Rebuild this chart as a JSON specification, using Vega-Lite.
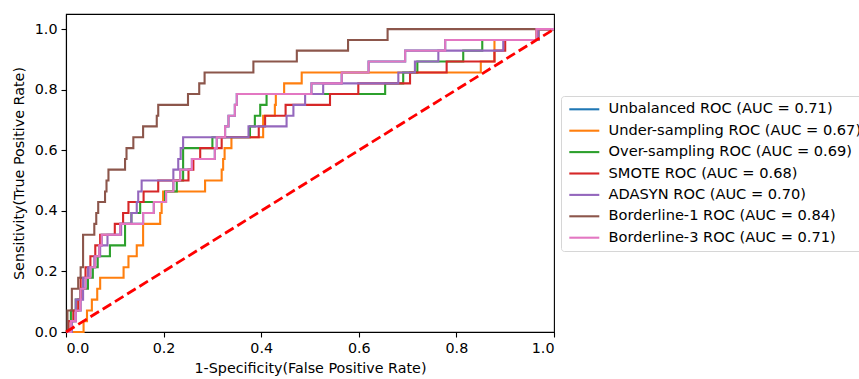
{
  "$schema": "https://vega.github.io/schema/vega-lite/v6.json",
  "width": 488,
  "height": 318,
  "autosize": {"type": "none"},
  "padding": {"left": 66, "top": 14, "right": 305, "bottom": 47},
  "background": "white",
  "config": {
    "font": "DejaVu Sans",
    "view": {"stroke": "#000", "strokeWidth": 1.1},
    "axis": {
      "domainColor": "#000", "domainWidth": 1.1, "tickColor": "#000", "tickWidth": 1.1, "tickSize": 5,
      "labelFont": "DejaVu Sans", "labelFontSize": 14.3, "labelColor": "#000", "labelPadding": 4,
      "titleFont": "DejaVu Sans", "titleFontSize": 14.3, "titleFontWeight": "normal", "titleColor": "#000", "grid": false
    }
  },
  "datasets": {
    "unbalanced": [{"x":0,"y":0},{"x":0.01,"y":0.036},{"x":0.02,"y":0.071},{"x":0.03,"y":0.143},{"x":0.04,"y":0.179},{"x":0.05,"y":0.214},{"x":0.06,"y":0.25},{"x":0.068,"y":0.286},{"x":0.073,"y":0.321},{"x":0.111,"y":0.357},{"x":0.158,"y":0.393},{"x":0.18,"y":0.429},{"x":0.205,"y":0.464},{"x":0.22,"y":0.5},{"x":0.234,"y":0.536},{"x":0.258,"y":0.571},{"x":0.305,"y":0.607},{"x":0.309,"y":0.643},{"x":0.326,"y":0.679},{"x":0.333,"y":0.714},{"x":0.346,"y":0.75},{"x":0.35,"y":0.786},{"x":0.503,"y":0.821},{"x":0.565,"y":0.857},{"x":0.62,"y":0.893},{"x":0.695,"y":0.929},{"x":0.777,"y":0.964},{"x":0.964,"y":1},{"x":1,"y":1}],
    "under": [{"x":0,"y":0},{"x":0.036,"y":0.036},{"x":0.043,"y":0.071},{"x":0.053,"y":0.107},{"x":0.064,"y":0.143},{"x":0.07,"y":0.179},{"x":0.118,"y":0.214},{"x":0.128,"y":0.25},{"x":0.145,"y":0.286},{"x":0.158,"y":0.357},{"x":0.193,"y":0.393},{"x":0.196,"y":0.429},{"x":0.199,"y":0.464},{"x":0.285,"y":0.5},{"x":0.319,"y":0.536},{"x":0.322,"y":0.571},{"x":0.325,"y":0.607},{"x":0.339,"y":0.643},{"x":0.404,"y":0.714},{"x":0.428,"y":0.75},{"x":0.43,"y":0.786},{"x":0.447,"y":0.821},{"x":0.483,"y":0.857},{"x":0.85,"y":0.893},{"x":0.878,"y":0.964},{"x":0.964,"y":1},{"x":1,"y":1}],
    "over": [{"x":0,"y":0},{"x":0.01,"y":0.071},{"x":0.02,"y":0.107},{"x":0.03,"y":0.143},{"x":0.045,"y":0.179},{"x":0.055,"y":0.214},{"x":0.065,"y":0.25},{"x":0.09,"y":0.286},{"x":0.121,"y":0.357},{"x":0.134,"y":0.393},{"x":0.152,"y":0.429},{"x":0.203,"y":0.464},{"x":0.227,"y":0.5},{"x":0.24,"y":0.607},{"x":0.3,"y":0.643},{"x":0.377,"y":0.679},{"x":0.387,"y":0.714},{"x":0.398,"y":0.75},{"x":0.411,"y":0.786},{"x":0.654,"y":0.821},{"x":0.691,"y":0.857},{"x":0.72,"y":0.893},{"x":0.814,"y":0.929},{"x":0.853,"y":0.964},{"x":0.968,"y":1},{"x":1,"y":1}],
    "smote": [{"x":0,"y":0},{"x":0.005,"y":0.036},{"x":0.015,"y":0.071},{"x":0.025,"y":0.107},{"x":0.03,"y":0.179},{"x":0.04,"y":0.214},{"x":0.05,"y":0.25},{"x":0.06,"y":0.286},{"x":0.07,"y":0.321},{"x":0.1,"y":0.357},{"x":0.117,"y":0.393},{"x":0.128,"y":0.429},{"x":0.159,"y":0.464},{"x":0.189,"y":0.5},{"x":0.251,"y":0.536},{"x":0.261,"y":0.571},{"x":0.275,"y":0.607},{"x":0.319,"y":0.643},{"x":0.395,"y":0.679},{"x":0.408,"y":0.714},{"x":0.45,"y":0.75},{"x":0.541,"y":0.786},{"x":0.599,"y":0.821},{"x":0.705,"y":0.857},{"x":0.78,"y":0.893},{"x":0.878,"y":0.929},{"x":0.9,"y":0.964},{"x":0.968,"y":1},{"x":1,"y":1}],
    "adasyn": [{"x":0,"y":0},{"x":0.012,"y":0.036},{"x":0.02,"y":0.107},{"x":0.035,"y":0.179},{"x":0.045,"y":0.214},{"x":0.058,"y":0.25},{"x":0.07,"y":0.286},{"x":0.085,"y":0.321},{"x":0.113,"y":0.357},{"x":0.134,"y":0.393},{"x":0.145,"y":0.429},{"x":0.148,"y":0.464},{"x":0.155,"y":0.5},{"x":0.22,"y":0.536},{"x":0.23,"y":0.571},{"x":0.235,"y":0.607},{"x":0.24,"y":0.643},{"x":0.374,"y":0.679},{"x":0.452,"y":0.714},{"x":0.466,"y":0.75},{"x":0.49,"y":0.786},{"x":0.527,"y":0.821},{"x":0.681,"y":0.857},{"x":0.715,"y":0.893},{"x":0.763,"y":0.929},{"x":0.896,"y":0.964},{"x":0.968,"y":1},{"x":1,"y":1}],
    "border1": [{"x":0,"y":0},{"x":0.003,"y":0.071},{"x":0.012,"y":0.143},{"x":0.025,"y":0.179},{"x":0.03,"y":0.214},{"x":0.035,"y":0.321},{"x":0.058,"y":0.357},{"x":0.062,"y":0.393},{"x":0.066,"y":0.429},{"x":0.08,"y":0.464},{"x":0.083,"y":0.5},{"x":0.087,"y":0.536},{"x":0.121,"y":0.571},{"x":0.124,"y":0.607},{"x":0.138,"y":0.643},{"x":0.158,"y":0.679},{"x":0.186,"y":0.714},{"x":0.189,"y":0.75},{"x":0.25,"y":0.786},{"x":0.273,"y":0.821},{"x":0.284,"y":0.857},{"x":0.384,"y":0.893},{"x":0.473,"y":0.929},{"x":0.578,"y":0.964},{"x":0.659,"y":1},{"x":1,"y":1}],
    "border3": [{"x":0,"y":0},{"x":0.01,"y":0.036},{"x":0.02,"y":0.071},{"x":0.03,"y":0.143},{"x":0.04,"y":0.179},{"x":0.05,"y":0.214},{"x":0.06,"y":0.25},{"x":0.068,"y":0.286},{"x":0.073,"y":0.321},{"x":0.111,"y":0.357},{"x":0.158,"y":0.393},{"x":0.18,"y":0.429},{"x":0.205,"y":0.464},{"x":0.22,"y":0.5},{"x":0.234,"y":0.536},{"x":0.258,"y":0.571},{"x":0.305,"y":0.607},{"x":0.309,"y":0.643},{"x":0.326,"y":0.679},{"x":0.333,"y":0.714},{"x":0.346,"y":0.75},{"x":0.35,"y":0.786},{"x":0.503,"y":0.821},{"x":0.565,"y":0.857},{"x":0.62,"y":0.893},{"x":0.695,"y":0.929},{"x":0.777,"y":0.964},{"x":0.964,"y":1},{"x":1,"y":1}],
    "diag": [{"x":0,"y":0},{"x":1,"y":1}]
  },
  "layer": [
    {
      "data": {"name": "unbalanced"},
      "mark": {"type": "line", "interpolate": "step-after", "strokeWidth": 2.1},
      "encoding": {
        "x": {"field": "x", "type": "quantitative", "scale": {"domain": [0, 1], "nice": false, "zero": false},
              "axis": {"values": [0, 0.2, 0.4, 0.6, 0.8, 1.0], "format": ".1f", "title": "1-Specificity(False Positive Rate)", "titlePadding": 6}},
        "y": {"field": "y", "type": "quantitative", "scale": {"domain": [0, 1.05], "nice": false},
              "axis": {"values": [0, 0.2, 0.4, 0.6, 0.8, 1.0], "format": ".1f", "title": "Sensitivity(True Positive Rate)", "titlePadding": 8}},
        "color": {"datum": "Unbalanced ROC (AUC = 0.71)", "type": "nominal",
          "scale": {
            "domain": ["Unbalanced ROC (AUC = 0.71)", "Under-sampling ROC (AUC = 0.67)", "Over-sampling ROC (AUC = 0.69)", "SMOTE ROC (AUC = 0.68)", "ADASYN ROC (AUC = 0.70)", "Borderline-1 ROC (AUC = 0.84)", "Borderline-3 ROC (AUC = 0.71)"],
            "range": ["#1f77b4", "#ff7f0e", "#2ca02c", "#d62728", "#9467bd", "#8c564b", "#e377c2"]
          },
          "legend": {
            "orient": "none", "legendX": 495, "legendY": 82, "title": null,
            "symbolType": "M-1,0H5", "symbolSize": 100, "symbolStrokeWidth": 2.1,
            "labelFont": "DejaVu Sans", "labelFontSize": 14.6, "labelColor": "#000", "labelOffset": 27, "labelLimit": 400,
            "strokeColor": "#d6d6d6", "fillColor": "white", "cornerRadius": 3, "padding": 6, "rowPadding": 6.4
          }
        }
      }
    },
    {
      "data": {"name": "under"},
      "mark": {"type": "line", "interpolate": "step-after", "strokeWidth": 2.1},
      "encoding": {"x": {"field": "x", "type": "quantitative"}, "y": {"field": "y", "type": "quantitative"}, "color": {"datum": "Under-sampling ROC (AUC = 0.67)", "type": "nominal"}}
    },
    {
      "data": {"name": "over"},
      "mark": {"type": "line", "interpolate": "step-after", "strokeWidth": 2.1},
      "encoding": {"x": {"field": "x", "type": "quantitative"}, "y": {"field": "y", "type": "quantitative"}, "color": {"datum": "Over-sampling ROC (AUC = 0.69)", "type": "nominal"}}
    },
    {
      "data": {"name": "smote"},
      "mark": {"type": "line", "interpolate": "step-after", "strokeWidth": 2.1},
      "encoding": {"x": {"field": "x", "type": "quantitative"}, "y": {"field": "y", "type": "quantitative"}, "color": {"datum": "SMOTE ROC (AUC = 0.68)", "type": "nominal"}}
    },
    {
      "data": {"name": "adasyn"},
      "mark": {"type": "line", "interpolate": "step-after", "strokeWidth": 2.1},
      "encoding": {"x": {"field": "x", "type": "quantitative"}, "y": {"field": "y", "type": "quantitative"}, "color": {"datum": "ADASYN ROC (AUC = 0.70)", "type": "nominal"}}
    },
    {
      "data": {"name": "border1"},
      "mark": {"type": "line", "interpolate": "step-after", "strokeWidth": 2.1},
      "encoding": {"x": {"field": "x", "type": "quantitative"}, "y": {"field": "y", "type": "quantitative"}, "color": {"datum": "Borderline-1 ROC (AUC = 0.84)", "type": "nominal"}}
    },
    {
      "data": {"name": "border3"},
      "mark": {"type": "line", "interpolate": "step-after", "strokeWidth": 2.1},
      "encoding": {"x": {"field": "x", "type": "quantitative"}, "y": {"field": "y", "type": "quantitative"}, "color": {"datum": "Borderline-3 ROC (AUC = 0.71)", "type": "nominal"}}
    },
    {
      "data": {"name": "diag"},
      "mark": {"type": "line", "color": "#ff0000", "strokeWidth": 2.8, "strokeDash": [10, 4.4]},
      "encoding": {"x": {"field": "x", "type": "quantitative"}, "y": {"field": "y", "type": "quantitative"}}
    }
  ]
}
